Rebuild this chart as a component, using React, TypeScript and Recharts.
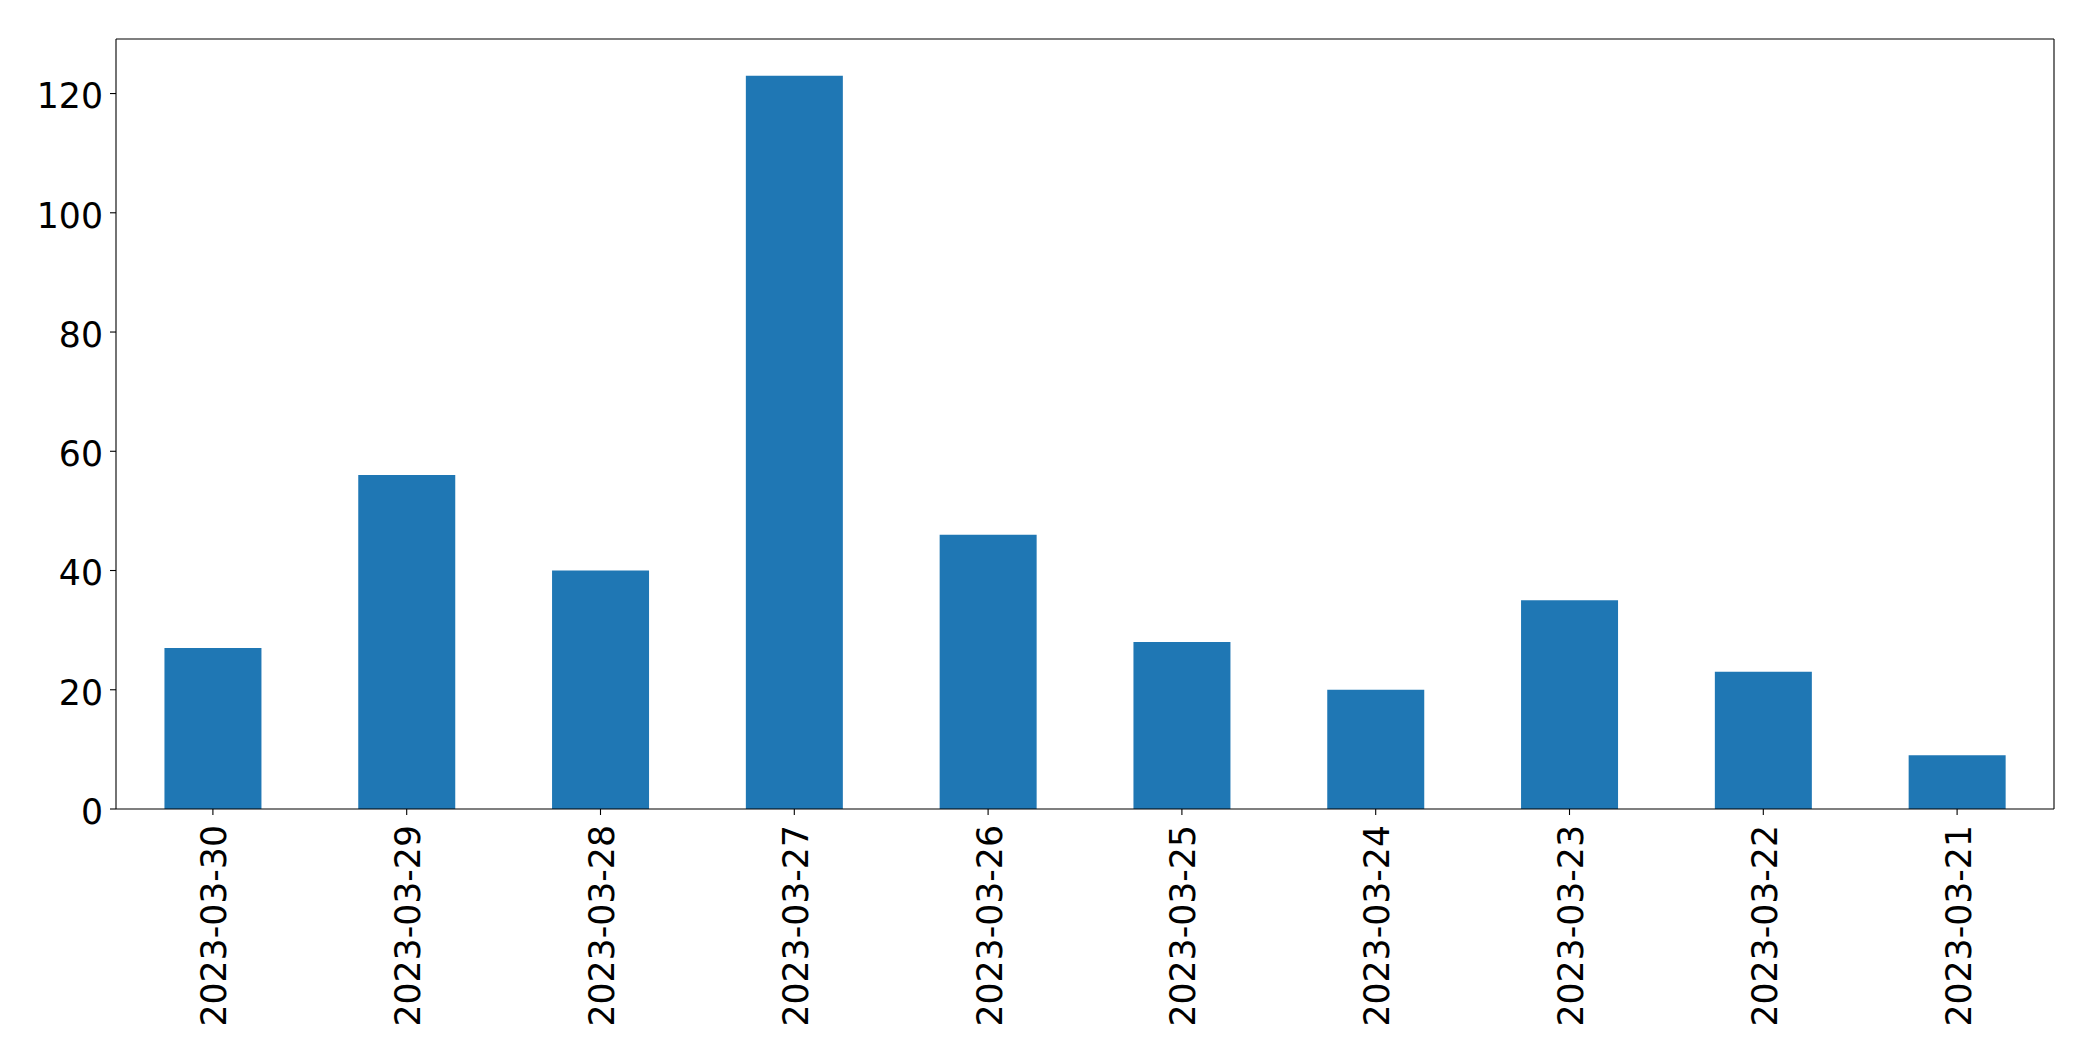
import { BarChart, Bar, XAxis, YAxis } from 'recharts'

const dates = [
  '2023-03-30',
  '2023-03-29',
  '2023-03-28',
  '2023-03-27',
  '2023-03-26',
  '2023-03-25',
  '2023-03-24',
  '2023-03-23',
  '2023-03-22',
  '2023-03-21',
]
const counts = [27, 56, 40, 123, 46, 28, 20, 35, 23, 9]
const yTicks = [0, 20, 40, 60, 80, 100, 120]

const data = dates.map((d, i) => ({ date: d, count: counts[i] }))

const FONT = '"DejaVu Sans", sans-serif'
const FONT_SIZE = 34.7
const BAR_COLOR = '#1f77b4'

// rotated date labels, like matplotlib's rot=90
const DateTick = (props: any) => {
  const { x, y, payload } = props
  return (
    <text
      transform={`translate(${x + 1.5},${y + 8}) rotate(-90)`}
      textAnchor="end"
      dominantBaseline="central"
      fontFamily={FONT}
      fontSize={FONT_SIZE}
      fill="#000"
    >
      {payload.value}
    </text>
  )
}

const CountTick = (props: any) => {
  const { x, y, payload } = props
  return (
    <text
      x={x}
      y={y + 2.5}
      dy="0.355em"
      textAnchor="end"
      fontFamily={FONT}
      fontSize={FONT_SIZE}
      fill="#000"
    >
      {payload.value}
    </text>
  )
}

export default function App() {
  const maxY = Math.max(...counts) * 1.05

  return (
    <div style={{ position: 'absolute', left: 0, top: 0, background: '#fff' }}>
      <BarChart
        width={2093}
        height={1061}
        data={data}
        margin={{ top: 38, right: 38, bottom: 0, left: 0 }}
        barCategoryGap="25%"
      >
        <XAxis
          dataKey="date"
          height={252}
          tick={<DateTick />}
          tickSize={6}
          interval={0}
          axisLine={{ stroke: '#000', strokeWidth: 1.1 }}
          tickLine={{ stroke: '#000', strokeWidth: 1.1 }}
        />
        <XAxis
          xAxisId="top"
          dataKey="date"
          orientation="top"
          height={1}
          tick={false}
          tickLine={false}
          axisLine={{ stroke: '#000', strokeWidth: 1.1 }}
        />
        <YAxis
          width={116}
          domain={[0, maxY]}
          ticks={yTicks}
          tickSize={6}
          tickMargin={7}
          interval={0}
          tick={<CountTick />}
          axisLine={{ stroke: '#000', strokeWidth: 1.1 }}
          tickLine={{ stroke: '#000', strokeWidth: 1.1 }}
        />
        <YAxis
          yAxisId="right"
          orientation="right"
          width={1}
          domain={[0, maxY]}
          tick={false}
          tickLine={false}
          axisLine={{ stroke: '#000', strokeWidth: 1.1 }}
        />
        <Bar dataKey="count" fill={BAR_COLOR} isAnimationActive={false} />
      </BarChart>
    </div>
  )
}
